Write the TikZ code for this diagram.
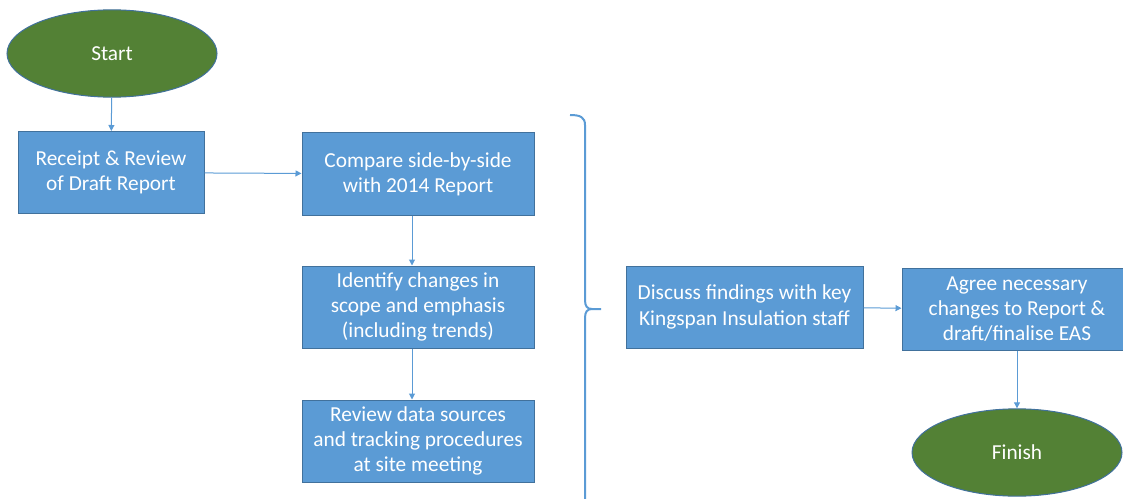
\documentclass[tikz,border=0pt]{standalone}
\usepackage{fontspec}
\setmainfont{Carlito}
\usepackage{tikz}
\usetikzlibrary{shapes.geometric,arrows.meta,positioning}
\definecolor{boxblue}{HTML}{5B9BD5}
\definecolor{edgeblue}{HTML}{41719C}
\definecolor{termgreen}{HTML}{538135}

\begin{document}
\begin{tikzpicture}[x=0.75pt,y=-0.75pt,
	every node/.style={text=white,font=\fontsize{16}{19}\selectfont,align=center,inner sep=0pt},
	task/.style={rectangle,draw=edgeblue,fill=boxblue,line width=0.75pt,minimum height=61.5pt},
	term/.style={ellipse,draw=edgeblue,fill=termgreen,line width=0.75pt,minimum width=157.5pt,minimum height=65.5pt},
	flow/.style={draw=boxblue,line width=0.75pt,-{Triangle[length=4.5pt,width=4.5pt]}}]
	\useasboundingbox (0,0) rectangle (1123,499);
	\clip (0,0) rectangle (1123,499);
	\node[term] (1) at (112,53.5) {Start};
	\node[task,minimum width=139.5pt] (2) at (111,172.5) {Receipt \& Review\\of Draft Report};
	\node[task,minimum width=174pt] (3) at (418,174) {Compare side-by-side\\with 2014 Report};
	\node[task,minimum width=174pt] (4) at (418,307) {Identify changes in\\scope and emphasis\\(including trends)};
	\node[task,minimum width=174pt] (5) at (418,441) {Review data sources\\and tracking procedures\\at site meeting};
	\node[task,minimum width=177.75pt] (6) at (744.5,307) {Discuss findings with key\\Kingspan Insulation staff};
	\node[task,minimum width=172.5pt] (7) at (1017,309) {Agree necessary\\changes to Report \&\\draft/finalise EAS};
	\node[term] (8) at (1017,452.5) {Finish};
	
	\draw[boxblue,line width=1.5pt] (570,115) .. controls (580,115) and (585,117) .. (585,125) -- (585,300) .. controls (585,306) and (587,309) .. (592,309) -- (601,309);
	\draw[boxblue,line width=1.5pt] (592,309) .. controls (587,309) and (585,312) .. (585,318) -- (585,510);
	
	\path[flow] (1) -- (2);
	\path[flow] (2) -- (3);
	\path[flow] ([xshift=-4.5pt]3.south) -- ([xshift=-4.5pt]4.north);
	\path[flow] ([xshift=-4.5pt]4.south) -- ([xshift=-4.5pt]5.north);
	\path[flow] (6) -- (7);
	\path[flow] (7) -- (8);
\end{tikzpicture}
\end{document}
